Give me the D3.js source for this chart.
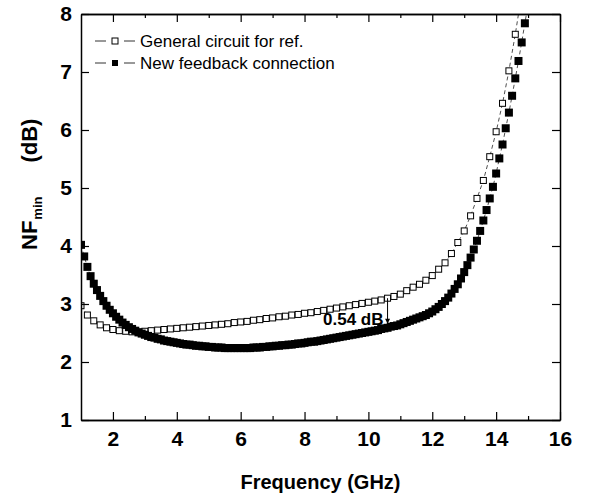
<!doctype html>
<html>
<head>
<meta charset="utf-8">
<title>NFmin vs Frequency</title>
<script src="https://d3js.org/d3.v7.min.js"></script>
<style>
  body { margin: 0; background: #fff; }
  text { font-family: Arial, "Liberation Sans", sans-serif; }
</style>
</head>
<body>
<svg id="chart"></svg>
<script>
// open squares: general circuit for ref. (every 0.2 GHz)
var freqOpen = [
  1.0, 1.2, 1.4, 1.6, 1.8, 2.0, 2.2, 2.4, 2.6, 2.8,
  3.0, 3.2, 3.4, 3.6, 3.8, 4.0, 4.2, 4.4, 4.6, 4.8,
  5.0, 5.2, 5.4, 5.6, 5.8, 6.0, 6.2, 6.4, 6.6, 6.8,
  7.0, 7.2, 7.4, 7.6, 7.8, 8.0, 8.2, 8.4, 8.6, 8.8,
  9.0, 9.2, 9.4, 9.6, 9.8, 10.0, 10.2, 10.4, 10.6, 10.8,
  11.0, 11.2, 11.4, 11.6, 11.8, 12.0, 12.2, 12.4, 12.6, 12.8,
  13.0, 13.2, 13.4, 13.6, 13.8, 14.0, 14.2, 14.4, 14.6, 14.8
];
var nfOpen = [
  2.97, 2.81, 2.71, 2.64, 2.59, 2.56, 2.54, 2.53, 2.52, 2.52,
  2.53, 2.54, 2.55, 2.56, 2.57, 2.58, 2.59, 2.60, 2.61, 2.62,
  2.63, 2.64, 2.65, 2.66, 2.68, 2.69, 2.70, 2.72, 2.73, 2.75,
  2.76, 2.78, 2.79, 2.81, 2.82, 2.84, 2.85, 2.87, 2.89, 2.91,
  2.93, 2.95, 2.97, 2.99, 3.01, 3.03, 3.05, 3.07, 3.10, 3.13,
  3.17, 3.23, 3.29, 3.34, 3.41, 3.49, 3.60, 3.71, 3.87, 4.06,
  4.26, 4.52, 4.82, 5.13, 5.54, 5.97, 6.46, 7.02, 7.65, 8.35
];

// filled squares: new feedback connection (every 0.1 GHz)
var freqFilled = [
  1.0, 1.1, 1.2, 1.3, 1.4, 1.5, 1.6, 1.7, 1.8, 1.9,
  2.0, 2.1, 2.2, 2.3, 2.4, 2.5, 2.6, 2.7, 2.8, 2.9,
  3.0, 3.1, 3.2, 3.3, 3.4, 3.5, 3.6, 3.7, 3.8, 3.9,
  4.0, 4.1, 4.2, 4.3, 4.4, 4.5, 4.6, 4.7, 4.8, 4.9,
  5.0, 5.1, 5.2, 5.3, 5.4, 5.5, 5.6, 5.7, 5.8, 5.9,
  6.0, 6.1, 6.2, 6.3, 6.4, 6.5, 6.6, 6.7, 6.8, 6.9,
  7.0, 7.1, 7.2, 7.3, 7.4, 7.5, 7.6, 7.7, 7.8, 7.9,
  8.0, 8.1, 8.2, 8.3, 8.4, 8.5, 8.6, 8.7, 8.8, 8.9,
  9.0, 9.1, 9.2, 9.3, 9.4, 9.5, 9.6, 9.7, 9.8, 9.9,
  10.0, 10.1, 10.2, 10.3, 10.4, 10.5, 10.6, 10.7, 10.8, 10.9,
  11.0, 11.1, 11.2, 11.3, 11.4, 11.5, 11.6, 11.7, 11.8, 11.9,
  12.0, 12.1, 12.2, 12.3, 12.4, 12.5, 12.6, 12.7, 12.8, 12.9,
  13.0, 13.1, 13.2, 13.3, 13.4, 13.5, 13.6, 13.7, 13.8, 13.9,
  14.0, 14.1, 14.2, 14.3, 14.4, 14.5, 14.6, 14.7, 14.8, 14.9,
  15.0
];
var nfFilled = [
  4.02, 3.82, 3.64, 3.48, 3.35, 3.24, 3.14, 3.05, 2.97, 2.90,
  2.84, 2.78, 2.73, 2.68, 2.64, 2.60, 2.57, 2.54, 2.51, 2.49,
  2.47, 2.45, 2.43, 2.42, 2.40, 2.39, 2.37, 2.36, 2.35, 2.34,
  2.33, 2.32, 2.31, 2.30, 2.30, 2.29, 2.28, 2.28, 2.27, 2.27,
  2.26, 2.26, 2.25, 2.25, 2.25, 2.24, 2.24, 2.24, 2.24, 2.24,
  2.24, 2.24, 2.24, 2.24, 2.25, 2.25, 2.25, 2.26, 2.26, 2.27,
  2.27, 2.28, 2.28, 2.29, 2.29, 2.30, 2.30, 2.31, 2.32, 2.32,
  2.33, 2.34, 2.35, 2.35, 2.36, 2.37, 2.38, 2.39, 2.40, 2.41,
  2.42, 2.43, 2.44, 2.45, 2.46, 2.47, 2.48, 2.49, 2.50, 2.51,
  2.52, 2.53, 2.54, 2.55, 2.57, 2.58, 2.59, 2.61, 2.62, 2.63,
  2.65, 2.67, 2.69, 2.71, 2.73, 2.75, 2.77, 2.79, 2.81, 2.84,
  2.87, 2.91, 2.95, 3.00, 3.05, 3.11, 3.18, 3.26, 3.34, 3.44,
  3.55, 3.67, 3.80, 3.94, 4.09, 4.26, 4.44, 4.62, 4.82, 5.02,
  5.25, 5.51, 5.75, 6.03, 6.30, 6.59, 6.89, 7.19, 7.51, 7.84,
  8.17
];

var xMajor = [2, 4, 6, 8, 10, 12, 14, 16];
var xMinor = [3, 5, 7, 9, 11, 13, 15];
var yMajor = [1, 2, 3, 4, 5, 6, 7, 8];
var legendLabels = ["General circuit for ref.", "New feedback connection"];

// annotation: gap between the two curves at 10.6 GHz
var annoFreq = 10.6, annoTop = 3.10, annoBottom = 2.59, annoText = "0.54 dB";

var W = 590, H = 499;
var pL = 81, pT = 14, pR = 560, pB = 420;

var svg = d3.select("#chart").attr("width", W).attr("height", H);

var x = d3.scaleLinear().domain([1, 16]).range([pL, pR]);
var y = d3.scaleLinear().domain([1, 8]).range([pB, pT]);

svg.append("defs").append("clipPath").attr("id", "plotclip")
  .append("rect")
    .attr("x", pL).attr("y", pT)
    .attr("width", pR - pL).attr("height", pB - pT);

var openPts = freqOpen.map(function(f, i) { return [f, nfOpen[i]]; });
var filledPts = freqFilled.map(function(f, i) { return [f, nfFilled[i]]; });

var line = d3.line()
  .x(function(d) { return x(d[0]); })
  .y(function(d) { return y(d[1]); });

var plot = svg.append("g").attr("clip-path", "url(#plotclip)");

// thin dashed connectors, open series first, filled drawn on top
plot.append("path")
  .attr("d", line(openPts))
  .attr("fill", "none").attr("stroke", "#222").attr("stroke-width", 0.8)
  .attr("stroke-dasharray", "4,3");
plot.append("path")
  .attr("d", line(filledPts))
  .attr("fill", "none").attr("stroke", "#222").attr("stroke-width", 0.8)
  .attr("stroke-dasharray", "4,3");

var so = 6;
plot.selectAll("rect.open").data(openPts).enter().append("rect")
  .attr("class", "open")
  .attr("x", function(d) { return x(d[0]) - so / 2; })
  .attr("y", function(d) { return y(d[1]) - so / 2; })
  .attr("width", so).attr("height", so)
  .attr("fill", "#fff").attr("stroke", "#000").attr("stroke-width", 1);

var sf = 8;
plot.selectAll("rect.filled").data(filledPts).enter().append("rect")
  .attr("class", "filled")
  .attr("x", function(d) { return x(d[0]) - sf / 2; })
  .attr("y", function(d) { return y(d[1]) - sf / 2; })
  .attr("width", sf).attr("height", sf)
  .attr("fill", "#000");

// axes, ticks point inward
function styleAxis(g) {
  g.selectAll(".domain").attr("stroke", "#000").attr("stroke-width", 1.5);
  g.selectAll(".tick line").attr("stroke", "#000").attr("stroke-width", 1.2);
  g.selectAll(".tick text")
    .attr("font-size", 21).attr("font-weight", "bold")
    .attr("font-family", "Arial, 'Liberation Sans', sans-serif")
    .attr("fill", "#000");
}

svg.append("g").attr("transform", "translate(0," + pB + ")")
  .call(d3.axisBottom(x).tickValues(xMajor).tickSizeInner(-8).tickSizeOuter(0).tickPadding(11))
  .call(styleAxis);
svg.append("g").attr("transform", "translate(0," + pB + ")")
  .call(d3.axisBottom(x).tickValues(xMinor).tickSizeInner(-4).tickSizeOuter(0).tickFormat(""))
  .call(styleAxis);
svg.append("g").attr("transform", "translate(0," + pT + ")")
  .call(d3.axisTop(x).tickValues(xMajor).tickSizeInner(-8).tickSizeOuter(0).tickFormat(""))
  .call(styleAxis);
svg.append("g").attr("transform", "translate(0," + pT + ")")
  .call(d3.axisTop(x).tickValues(xMinor).tickSizeInner(-4).tickSizeOuter(0).tickFormat(""))
  .call(styleAxis);
svg.append("g").attr("transform", "translate(" + pL + ",0)")
  .call(d3.axisLeft(y).tickValues(yMajor).tickSizeInner(-8).tickSizeOuter(0).tickPadding(9).tickFormat(d3.format("d")))
  .call(styleAxis);
svg.append("g").attr("transform", "translate(" + pR + ",0)")
  .call(d3.axisRight(y).tickValues(yMajor).tickSizeInner(-8).tickSizeOuter(0).tickFormat(""))
  .call(styleAxis);

// axis titles
svg.append("text")
  .attr("x", (pL + pR) / 2).attr("y", 489)
  .attr("text-anchor", "middle")
  .attr("font-size", 20).attr("font-weight", "bold")
  .text("Frequency (GHz)");

var yt = svg.append("text")
  .attr("transform", "translate(37,250) rotate(-90)")
  .attr("font-size", 22).attr("font-weight", "bold");
yt.append("tspan").text("NF");
yt.append("tspan").attr("font-size", 13).attr("dy", 5).attr("dx", 1).text("min");
yt.append("tspan").attr("dy", -5).attr("dx", 34).text("(dB)");

// legend
var legend = svg.append("g");
legendLabels.forEach(function(lbl, i) {
  var cy = 41 + i * 22;
  legend.append("line")
    .attr("x1", 95).attr("x2", 135).attr("y1", cy).attr("y2", cy)
    .attr("stroke", "#333").attr("stroke-width", 1);
  legend.append("line")
    .attr("x1", 106).attr("x2", 124).attr("y1", cy).attr("y2", cy)
    .attr("stroke", "#fff").attr("stroke-width", 3);
  legend.append("rect")
    .attr("x", 115 - 3).attr("y", cy - 3).attr("width", 6).attr("height", 6)
    .attr("fill", i === 0 ? "#fff" : "#000")
    .attr("stroke", "#000").attr("stroke-width", i === 0 ? 1 : 0);
  legend.append("text")
    .attr("x", 140).attr("y", cy + 6)
    .attr("font-size", 17)
    .text(lbl);
});

// 0.54 dB annotation
var ax = x(annoFreq);
svg.append("line")
  .attr("x1", ax).attr("x2", ax)
  .attr("y1", y(annoTop)).attr("y2", y(annoBottom) - sf / 2 - 4)
  .attr("stroke", "#000").attr("stroke-width", 1);
svg.append("path")
  .attr("d", "M" + (ax - 2.5) + "," + (y(annoBottom) - sf / 2 - 5) +
             "L" + (ax + 2.5) + "," + (y(annoBottom) - sf / 2 - 5) +
             "L" + ax + "," + (y(annoBottom) - sf / 2) + "Z")
  .attr("fill", "#000");
svg.append("text")
  .attr("x", ax - 4).attr("y", y(annoBottom) - 3)
  .attr("text-anchor", "end")
  .attr("font-size", 17).attr("font-weight", "bold")
  .text(annoText);
</script>
</body>
</html>
